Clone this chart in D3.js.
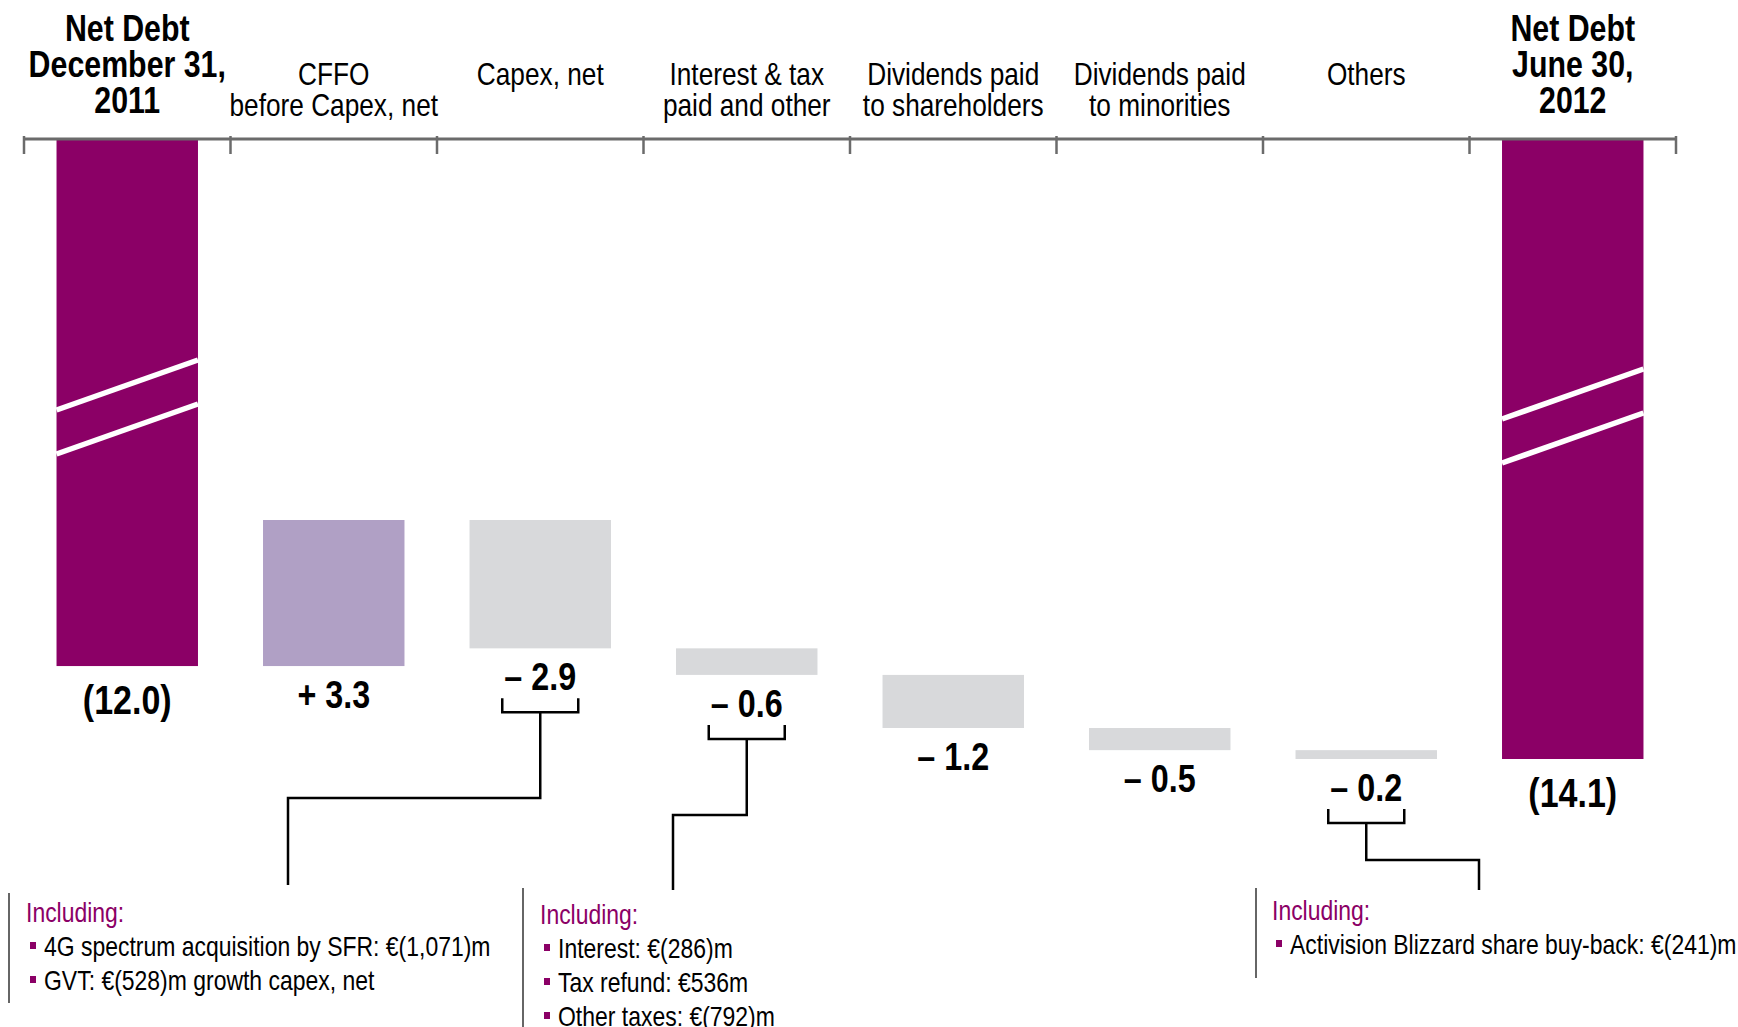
<!DOCTYPE html>
<html>
<head>
<meta charset="utf-8">
<script src="https://cdn.jsdelivr.net/npm/d3@7"></script>
<style>
  body { margin: 0; background: #fff; }
  text { font-family: 'Liberation Sans', Arial, sans-serif; }
</style>
</head>
<body>
<div id="vis"></div>
<script>
// chart values
const categories = ["start", "cffo", "capex", "interest", "divShare", "divMin", "others", "end"];
const headerLines = [
    ["Net Debt", "December 31,", "2011"],
    ["CFFO", "before Capex, net"],
    ["Capex, net"],
    ["Interest & tax", "paid and other"],
    ["Dividends paid", "to shareholders"],
    ["Dividends paid", "to minorities"],
    ["Others"],
    ["Net Debt", "June 30,", "2012"]
];
const kinds = ["total", "up", "down", "down", "down", "down", "down", "total"];
const amounts = [12.0, 3.3, -2.9, -0.6, -1.2, -0.5, -0.2, 14.1];
const valueLabels = ["(12.0)", "+ 3.3", "– 2.9", "– 0.6", "– 1.2", "– 0.5", "– 0.2", "(14.1)"];

// call-out notes
const noteCategories = ["capex", "interest", "others"];
const noteLines = [
    ["4G spectrum acquisition by SFR: €(1,071)m", "GVT: €(528)m growth capex, net"],
    ["Interest: €(286)m", "Tax refund: €536m", "Other taxes: €(792)m"],
    ["Activision Blizzard share buy-back: €(241)m"]
];

// no narrow face installed, so squeeze the regular one horizontally
const SQUEEZE = 0.82;
function placeNarrow(sel, px, py, sx = SQUEEZE) {
    return sel.attr("x", 0).attr("y", 0)
        .attr("transform", `translate(${px},${py}) scale(${sx},1)`);
}

function createVis() {
    const width = 1738;
    const height = 1027;
    const axisY = 139;

    const purple = "#8b0066";
    const colors = { total: purple, up: "#b0a0c5", down: "#d8d9db" };

    const svg = d3.select("#vis").append("svg")
        .attr("width", width)
        .attr("height", height);

    const x = d3.scaleBand()
        .domain(categories)
        .range([24, 1676])
        .padding(0);
    const barW = x.bandwidth() * 0.685;

    const y = d3.scaleLinear()
        .domain([8.7, 14.1])
        .range([520, 759]);

    // running net debt levels for the waterfall
    let level = amounts[0];
    const bars = categories.map((c, i) => {
        if (kinds[i] === "total") {
            level = amounts[i];
            return { cat: c, i, kind: "total", y0: axisY + 1, y1: y(amounts[i]) };
        }
        const before = level;
        level = level - amounts[i];
        return { cat: c, i, kind: kinds[i], y0: y(Math.min(before, level)), y1: y(Math.max(before, level)) };
    });
    console.log(bars);

    // headers
    headerLines.forEach((lines, i) => {
        const total = kinds[i] === "total";
        const cx = x(categories[i]) + x.bandwidth() / 2;
        lines.forEach((l, j) => {
            svg.append("text")
                .attr("text-anchor", "middle")
                .attr("font-size", total ? "37px" : "32px")
                .attr("font-weight", total ? "bold" : "normal")
                .attr("fill", "#000")
                .call(placeNarrow, cx, total ? 41 + j * 36 : 85 + j * 31)
                .text(l);
        });
    });

    // bars
    svg.selectAll("rect.bar")
        .data(bars)
        .join("rect")
        .attr("class", "bar")
        .attr("x", d => x(d.cat) + (x.bandwidth() - barW) / 2)
        .attr("y", d => d.y0)
        .attr("width", barW)
        .attr("height", d => d.y1 - d.y0)
        .attr("fill", d => colors[d.kind]);

    // axis line with ticks between categories
    svg.append("line")
        .attr("x1", x.range()[0])
        .attr("x2", x.range()[1])
        .attr("y1", axisY)
        .attr("y2", axisY)
        .attr("stroke", "#6b6b6b")
        .attr("stroke-width", 3);

    const tickXs = categories.map(c => x(c)).concat([x.range()[1]]);
    svg.selectAll("line.tick")
        .data(tickXs)
        .join("line")
        .attr("class", "tick")
        .attr("x1", d => d)
        .attr("x2", d => d)
        .attr("y1", axisY - 3)
        .attr("y2", axisY + 15)
        .attr("stroke", "#6b6b6b")
        .attr("stroke-width", 2.5);

    // axis break marks on the total bars
    const breaks = svg.append("g");
    bars.filter(d => d.kind === "total").forEach(d => {
        const bx0 = x(d.cat) + (x.bandwidth() - barW) / 2;
        const bx1 = bx0 + barW;
        [0, 44].forEach(off => {
            breaks.append("line")
                .attr("x1", bx0)
                .attr("y1", 410 + off + (d.i === 0 ? 0 : 9))
                .attr("x2", bx1)
                .attr("y2", 360 + off + (d.i === 0 ? 0 : 9))
                .attr("stroke", "#fff")
                .attr("stroke-width", 5.5);
        });
    });

    // value labels
    const labelY = d => d.y1 + (d.kind === "total" ? 48 : 42);
    bars.forEach(d => {
        svg.append("text")
            .attr("text-anchor", "middle")
            .attr("font-size", d.kind === "total" ? "40px" : "38px")
            .attr("font-weight", "bold")
            .call(placeNarrow, x(d.cat) + x.bandwidth() / 2, labelY(d), 0.85)
            .text(valueLabels[d.i]);
    });

    // brackets + connectors to the notes
    const noteLayout = [
        { elbowY: 798, endX: 288, endY: 885, ruleX: 9, ruleY0: 893, ruleY1: 1003, textX: 26, textY: 922 },
        { elbowY: 815, endX: 673, endY: 890, ruleX: 523, ruleY0: 888, ruleY1: 1027, textX: 540, textY: 924 },
        { elbowY: 860, endX: 1479, endY: 890, ruleX: 1256, ruleY0: 888, ruleY1: 978, textX: 1272, textY: 920 }
    ];

    noteCategories.forEach((c, k) => {
        const b = bars.find(d => d.cat === c);
        const cx = x(c) + x.bandwidth() / 2;
        const top = labelY(b) + 8;
        const bot = top + 14;
        const L = noteLayout[k];

        svg.append("path")
            .attr("d", `M${cx - 38},${top} V${bot} H${cx + 38} V${top}`)
            .attr("fill", "none")
            .attr("stroke", "#000")
            .attr("stroke-width", 2.5);

        svg.append("path")
            .attr("d", `M${cx},${bot} V${L.elbowY} H${L.endX} V${L.endY}`)
            .attr("fill", "none")
            .attr("stroke", "#000")
            .attr("stroke-width", 2.5);

        const g = svg.append("g");
        g.append("line")
            .attr("x1", L.ruleX).attr("x2", L.ruleX)
            .attr("y1", L.ruleY0).attr("y2", L.ruleY1)
            .attr("stroke", "#333")
            .attr("stroke-width", 1.5);

        g.append("text")
            .attr("font-size", "28px")
            .attr("fill", purple)
            .call(placeNarrow, L.textX, L.textY)
            .text("Including:");

        noteLines[k].forEach((line, j) => {
            const ly = L.textY + 34 * (j + 1);
            g.append("rect")
                .attr("x", L.textX + 4)
                .attr("y", ly - 14)
                .attr("width", 6)
                .attr("height", 7)
                .attr("fill", purple);
            g.append("text")
                .attr("font-size", "28px")
                .attr("fill", "#000")
                .call(placeNarrow, L.textX + 18, ly)
                .text(line);
        });
    });
}

window.addEventListener('load', createVis);
</script>
</body>
</html>
